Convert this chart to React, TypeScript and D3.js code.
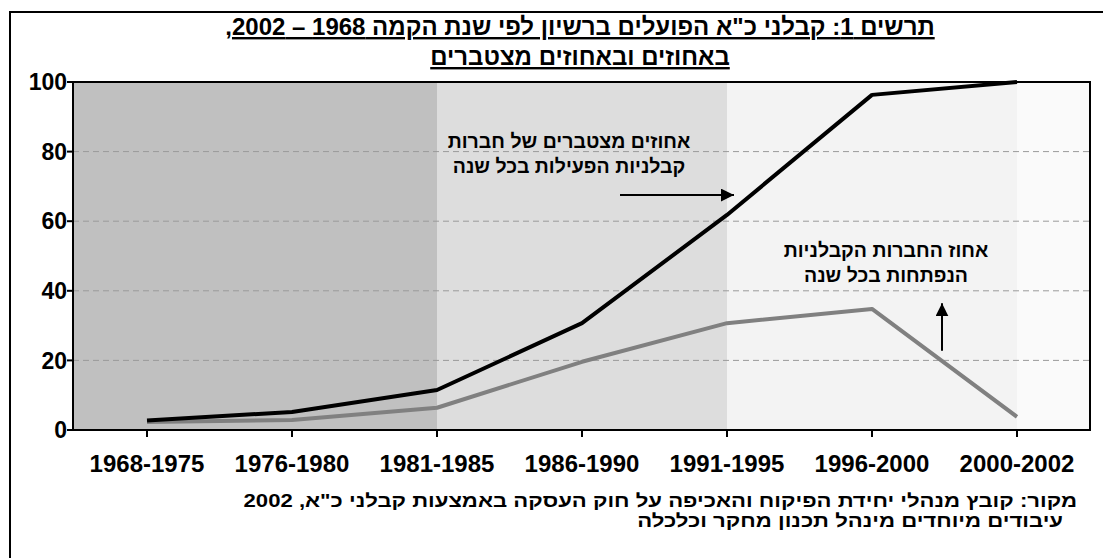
import React from 'react';
import * as d3 from 'd3';

const periods = ['1968-1975', '1976-1980', '1981-1985', '1986-1990', '1991-1995', '1996-2000', '2000-2002'];
const cumulative = [2.7, 5.2, 11.5, 30.7, 61.8, 96.3, 100];
const opened = [2.3, 2.9, 6.4, 19.6, 30.7, 34.8, 3.8];
const yTicks = [0, 20, 40, 60, 80, 100];

const titleLines = ['תרשים 1: קבלני כ"א הפועלים ברשיון לפי שנת הקמה 1968 – 2002,', 'באחוזים ובאחוזים מצטברים'];
const cumLabel = ['אחוזים מצטברים של חברות', 'קבלניות הפעילות בכל שנה'];
const openLabel = ['אחוז החברות הקבלניות', 'הנפתחות בכל שנה'];
const sourceLines = ['מקור: קובץ מנהלי יחידת הפיקוח והאכיפה על חוק העסקה באמצעות קבלני כ"א, 2002', 'עיבודים מיוחדים מינהל תכנון מחקר וכלכלה'];

const W = 1103;
const H = 558;
const plot = { left: 73, right: 1090, top: 82, bottom: 430 };
const font = '"Liberation Sans", Arial, sans-serif';

const App = () => {
  const x = d3.scaleLinear()
    .domain([0, periods.length - 1])
    .range([147, 1017]);

  const y = d3.scaleLinear()
    .domain([0, 100])
    .range([plot.bottom, plot.top]);

  const line = d3.line<number>()
    .x((d, i) => x(i))
    .y(d => y(d));

  // background bands, split at 1981-1985, 1991-1995 and 2000-2002
  const bands = [
    { x0: plot.left, x1: x(2), fill: '#c0c0c0' },
    { x0: x(2), x1: x(4), fill: '#dddddd' },
    { x0: x(4), x1: x(6), fill: '#f3f3f3' },
    { x0: x(6), x1: plot.right, fill: '#fafafa' },
  ];

  return (
    <svg width={W} height={H} style={{ position: 'absolute', left: 0, top: 0 }} fontFamily={font}>
      <rect x={0} y={0} width={W} height={H} fill='#fff' />
      <rect x={10} y={12} width={W} height={H} fill='none' stroke='#000' strokeWidth={2} />

      <g fontWeight='bold' fontSize={24} textAnchor='middle' direction='rtl' textDecoration='underline'>
        {titleLines.map((t, i) => (
          <text key={i} x={580} y={35 + i * 30}>{t}</text>
        ))}
      </g>

      {bands.map((b, i) => (
        <rect key={i} x={b.x0} y={plot.top} width={b.x1 - b.x0} height={plot.bottom - plot.top} fill={b.fill} />
      ))}

      {yTicks.filter(t => t > 0 && t < 100).map(t => (
        <line key={t} x1={plot.left} x2={plot.right} y1={y(t)} y2={y(t)} stroke='#9a9a9a' strokeWidth={1} strokeDasharray='6,4' />
      ))}

      <path d={line(opened)} fill='none' stroke='#808080' strokeWidth={4} strokeLinejoin='round' />
      <path d={line(cumulative)} fill='none' stroke='#000' strokeWidth={4} strokeLinejoin='round' />

      <rect x={plot.left} y={plot.top} width={plot.right - plot.left} height={plot.bottom - plot.top} fill='none' stroke='#000' strokeWidth={2} />

      {yTicks.map(t => (
        <g key={t}>
          <line x1={plot.left - 6} x2={plot.left} y1={y(t)} y2={y(t)} stroke='#000' strokeWidth={2} />
          <text x={plot.left - 6} y={y(t)} dy='0.36em' textAnchor='end' fontSize={23} fontWeight='bold'>{t}</text>
        </g>
      ))}

      {periods.map((p, i) => (
        <g key={p}>
          <line x1={x(i)} x2={x(i)} y1={plot.bottom} y2={plot.bottom + 7} stroke='#000' strokeWidth={2} />
          <text x={x(i)} y={472} textAnchor='middle' fontSize={24} fontWeight='bold'>{p}</text>
        </g>
      ))}

      <defs>
        <marker id='head' viewBox='0 0 10 10' refX={10} refY={5} markerWidth={6.5} markerHeight={6.5} orient='auto' markerUnits='strokeWidth'>
          <path d='M0,0 L10,5 L0,10 Z' fill='#000' />
        </marker>
      </defs>

      <g fontWeight='bold' fontSize={19.5} textAnchor='middle' direction='rtl'>
        {cumLabel.map((t, i) => (
          <text key={i} x={569} y={148 + i * 25}>{t}</text>
        ))}
        {openLabel.map((t, i) => (
          <text key={i} x={886} y={257 + i * 25}>{t}</text>
        ))}
      </g>
      <line x1={620} x2={734} y1={y(67.5)} y2={y(67.5)} stroke='#000' strokeWidth={2} markerEnd='url(#head)' />
      <line x1={942} x2={942} y1={y(22.8)} y2={y(36.4)} stroke='#000' strokeWidth={2} markerEnd='url(#head)' />

      {/* source note: the original type is wide, so stretch it horizontally */}
      <g fontWeight='bold' fontSize={18} textAnchor='start' direction='rtl'>
        <text transform='translate(1077,507) scale(1.23,1)'>{sourceLines[0]}</text>
        <text transform='translate(1063,527) scale(1.23,1)'>{sourceLines[1]}</text>
      </g>
    </svg>
  );
};

export default App;
